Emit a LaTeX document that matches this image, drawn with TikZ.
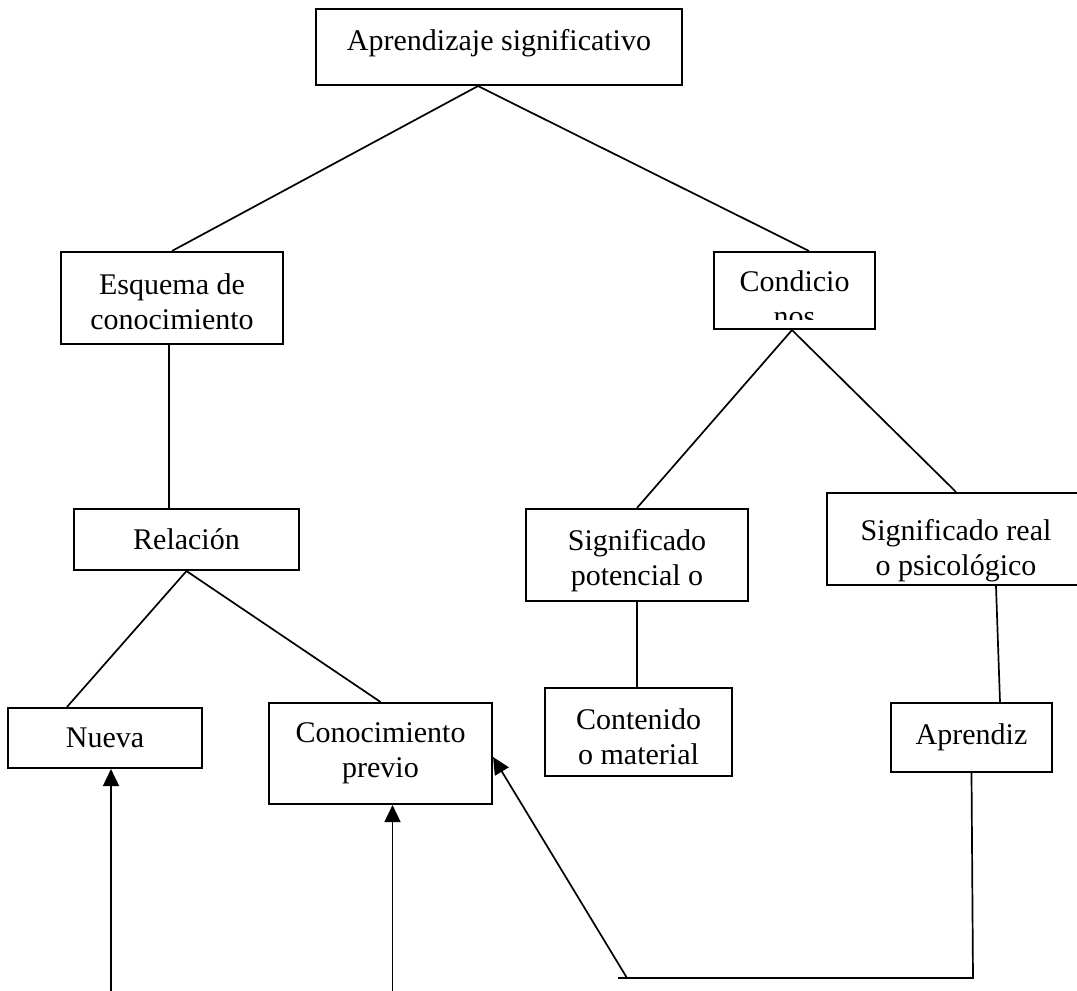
\documentclass[tikz,border=0pt]{standalone}
\usepackage{fontspec}
\setmainfont{Liberation Serif}
\usetikzlibrary{arrows.meta}
\newcommand{\alto}[1]{\rule{0pt}{#1}}
\newcommand{\hondo}[1]{\rule[-#1]{0pt}{0pt}}
\tikzset{
  caja/.style={shape=rectangle,draw=black,line width=2.1pt,inner sep=0pt,align=center},
  enlace/.style={line width=1.7pt},
  flecha/.style={line width=1.7pt,-{Triangle[length=17pt,width=16pt]}}
}
\begin{document}
\begin{tikzpicture}[x=1pt,y=-1pt,every node/.style={font=\fontsize{30}{35}\selectfont}]
  \useasboundingbox (0,0) rectangle (1077,991);

  \node[caja,minimum width=366pt,minimum height=76pt] (apr) at (499,47) {Aprendizaje significativo\hondo{14pt}};

  \node[caja,minimum width=222pt,minimum height=92pt] (esq) at (172,298) {\alto{29pt}Esquema de\\conocimiento};
  \node[caja,minimum width=161pt,minimum height=77pt] (cond) at (794.5,290.5) {};
  \begin{scope}
    \clip (cond.north west) rectangle ([yshift=11pt]cond.south east);
    \node[align=center,inner sep=0pt] (condtxt) at (794.5,299) {Condicio\\nos};
  \end{scope}

  \node[caja,minimum width=225pt,minimum height=61pt] (rel) at (186.5,539.5) {Relación};
  \node[caja,minimum width=222pt,minimum height=92pt] (sigp) at (637,555) {\alto{33pt}Significado\\potencial o};
  \node[caja,minimum width=258pt,minimum height=92pt] (sigr) at (956,539) {\alto{45pt}Significado real\\o psicológico};

  \node[caja,minimum width=194pt,minimum height=60pt] (nueva) at (105,738) {Nueva};
  \node[caja,minimum width=223pt,minimum height=101pt] (conoc) at (380.5,753.5) {Conocimiento\\previo};
  \node[caja,minimum width=187pt,minimum height=88pt] (cont) at (638.5,732) {\alto{31pt}Contenido\\o material};
  \node[caja,minimum width=161pt,minimum height=69pt] (aprz) at (971.5,737.5) {Aprendiz};

  \coordinate (esquina) at (973,978);
  \coordinate (tope) at (618,978);
  \coordinate (giro) at (627,978);
  \coordinate (n0) at (111,991);
  \coordinate (c0) at (392.5,991);

  \draw[enlace] ([xshift=-21pt]apr.south) -- (esq.north);
  \draw[enlace] ([xshift=-21pt]apr.south) -- ([xshift=14.5pt]cond.north);
  \draw[enlace] ([xshift=-3pt]esq.south) -- ([xshift=-3pt]esq.south |- rel.north);
  \draw[enlace] (rel.south) -- ([xshift=-38pt]nueva.north);
  \draw[enlace] (rel.south) -- (conoc.north);
  \draw[enlace] ([xshift=-2.5pt]cond.south) -- (sigp.north);
  \draw[enlace] ([xshift=-2.5pt]cond.south) -- (sigr.north);
  \draw[enlace] (sigp.south) -- (sigp.south |- cont.north);
  \draw[enlace] ([xshift=40pt]sigr.south) -- ([xshift=28.5pt]aprz.north);
  \draw[enlace] (aprz.south) -- (esquina) -- (tope);

  \draw[flecha] (giro) -- ([yshift=-3.5pt]conoc.east);
  \draw[flecha] (n0) -- (n0 |- nueva.south);
  \draw[flecha] (c0) -- (c0 |- conoc.south);
\end{tikzpicture}
\end{document}
